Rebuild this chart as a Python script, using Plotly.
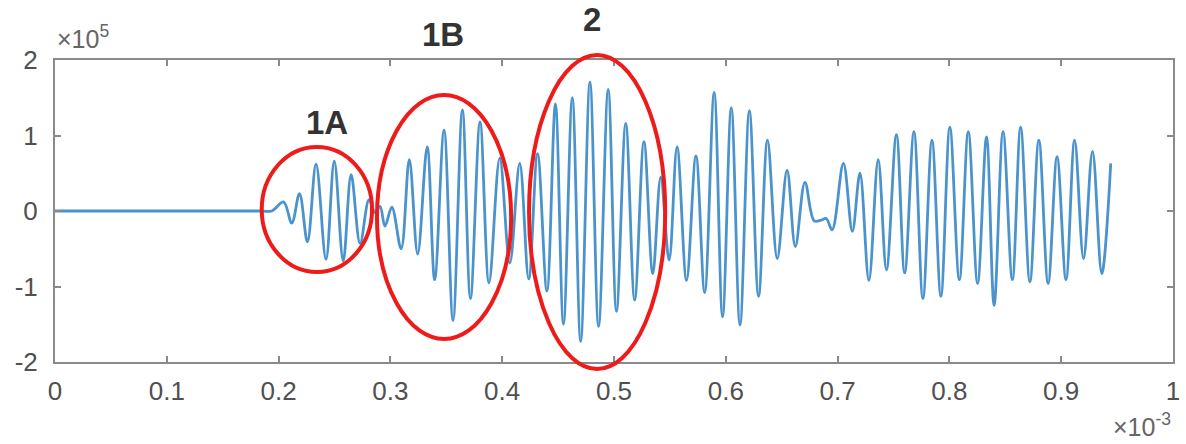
import plotly.graph_objects as go

# time axis in units of 1e-3 s, amplitude in units of 1e5
t_ms = [0.0, 0.184, 0.1938, 0.2044, 0.2118, 0.2187, 0.2258, 0.2335, 0.2424, 0.2498, 0.2578,
        0.2649, 0.2729, 0.2809, 0.2862, 0.2907, 0.2951, 0.3013, 0.3096, 0.3169, 0.3244,
        0.3329, 0.3396, 0.3480, 0.3560, 0.3644, 0.3716, 0.3802, 0.3882, 0.3978, 0.4068,
        0.4157, 0.4237, 0.4316, 0.4400, 0.4476, 0.4548, 0.4627, 0.4702, 0.4785, 0.4862,
        0.4948, 0.5022, 0.5105, 0.5185, 0.5268, 0.5347, 0.5418, 0.5493, 0.5564, 0.5649,
        0.5733, 0.5811, 0.5896, 0.5971, 0.6049, 0.6127, 0.6211, 0.6293, 0.6373, 0.6460,
        0.6548, 0.6622, 0.6708, 0.6791, 0.6853, 0.6898, 0.6951, 0.7052, 0.7132, 0.7200,
        0.7280, 0.7363, 0.7437, 0.7526, 0.7600, 0.7683, 0.7763, 0.7844, 0.7924, 0.8004,
        0.8089, 0.8169, 0.8252, 0.8332, 0.8400, 0.8480, 0.8563, 0.8637, 0.8720, 0.8800,
        0.8883, 0.8963, 0.9043, 0.9120, 0.9200, 0.9280, 0.9363, 0.9443]
amp_e5 = [0.0, 0.0, 0.0, 0.12, -0.16, 0.23, -0.41, 0.62, -0.64, 0.66, -0.66,
          0.48, -0.43, 0.15, -0.02, 0.06, -0.20, 0.05, -0.50, 0.68, -0.57,
          0.85, -0.91, 1.07, -1.45, 1.34, -1.16, 1.18, -0.95, 0.70, -0.69,
          0.63, -0.90, 0.76, -1.06, 1.42, -1.50, 1.50, -1.73, 1.71, -1.53,
          1.61, -1.33, 1.16, -1.18, 0.92, -0.83, 0.45, -0.65, 0.85, -0.92,
          0.73, -1.08, 1.57, -1.40, 1.37, -1.51, 1.33, -1.13, 0.94, -0.63,
          0.54, -0.47, 0.38, -0.13, -0.12, -0.10, -0.25, 0.63, -0.27, 0.50,
          -0.92, 0.68, -0.78, 1.01, -0.82, 1.05, -1.16, 0.94, -1.13, 1.11,
          -0.91, 1.05, -0.96, 0.98, -1.25, 1.05, -0.91, 1.11, -0.94, 0.94,
          -0.96, 0.72, -0.91, 0.94, -0.63, 0.79, -0.83, 0.63]

x_ticks = [0, 0.1, 0.2, 0.3, 0.4, 0.5, 0.6, 0.7, 0.8, 0.9, 1]
x_tick_labels = ["0", "0.1", "0.2", "0.3", "0.4", "0.5", "0.6", "0.7", "0.8", "0.9", "1"]
y_ticks = [-2, -1, 0, 1, 2]
y_tick_labels = ["-2", "-1", "0", "1", "2"]
region_labels = ["1A", "1B", "2"]

FONT = "Liberation Sans, Arial, sans-serif"

fig = go.Figure()
fig.add_trace(go.Scatter(
    x=t_ms, y=amp_e5, mode="lines",
    line=dict(color="#4b93cc", width=2.8, shape="spline", smoothing=1.0),
    hoverinfo="skip", showlegend=False,
))

axis_common = dict(
    showline=True, linecolor="#8a8a8a", linewidth=2, mirror="ticks",
    ticks="inside", ticklen=6, tickcolor="#8a8a8a", tickwidth=2,
    showgrid=False, zeroline=False,
    tickfont=dict(family=FONT, size=26, color="#505050"),
)
fig.update_xaxes(range=[0, 1], tickvals=x_ticks, ticktext=x_tick_labels,
                 ticklabelstandoff=5, **axis_common)
fig.update_yaxes(range=[-2, 2], tickvals=y_ticks, ticktext=y_tick_labels,
                 ticklabelstandoff=10, **axis_common)

red = "#ee1b1b"
ellipses = [
    (0.1849, 0.298, 0.2836, 0.712),
    (0.288, 0.076, 0.408, 0.884),
    (0.424, -0.023, 0.5458, 1.0166),
]
for (x0, y0, x1, y1) in ellipses:
    fig.add_shape(type="circle", xref="paper", yref="paper",
                  x0=x0, y0=y0, x1=x1, y1=y1,
                  line=dict(color=red, width=4), layer="above")

label_pos = [(0.2430, 0.794), (0.3470, 1.083), (0.4805, 1.133)]
for text, (lx, ly) in zip(region_labels, label_pos):
    fig.add_annotation(text=text, xref="paper", yref="paper", x=lx, y=ly,
                       showarrow=False, xanchor="center", yanchor="middle",
                       font=dict(family=FONT, size=33, color="#333333", weight="bold"))

fig.add_annotation(text="×10<sup>5</sup>", xref="paper", yref="paper",
                   x=0.0, y=1.015, xanchor="left", yanchor="bottom", showarrow=False,
                   font=dict(family=FONT, size=25, color="#666666"))
fig.add_annotation(text="×10<sup>-3</sup>", xref="paper", yref="paper",
                   x=1.0, y=-0.268, xanchor="right", yanchor="bottom", showarrow=False,
                   font=dict(family=FONT, size=25, color="#666666"))

fig.update_layout(
    width=1186, height=444,
    margin=dict(l=55, r=6, t=60, b=82),
    plot_bgcolor="white", paper_bgcolor="white",
)
fig.write_html("out.html")
